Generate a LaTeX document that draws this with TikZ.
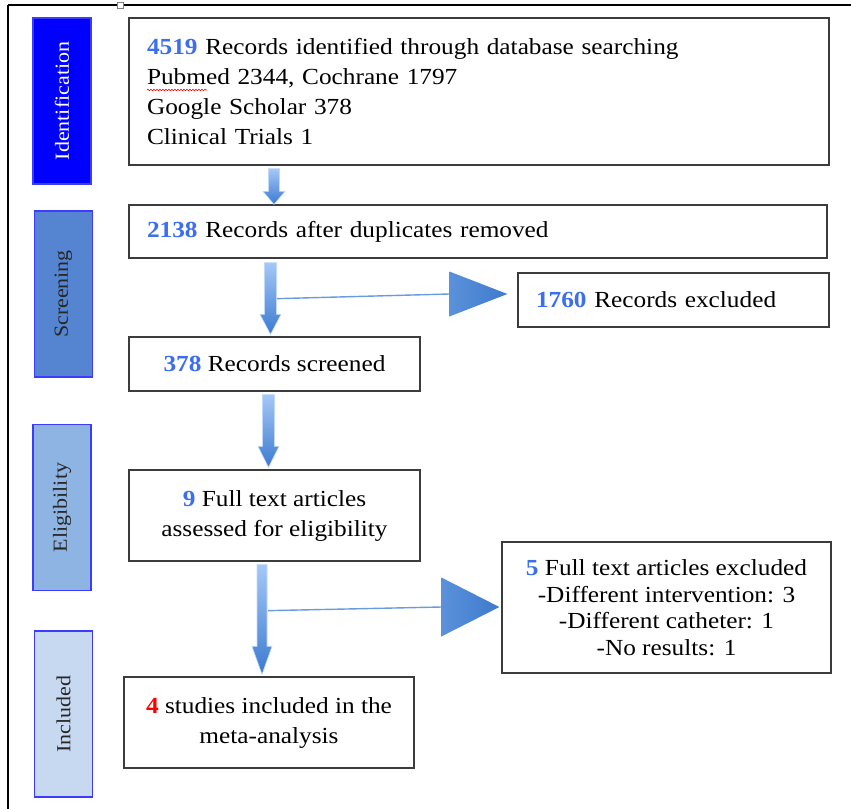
\documentclass[tikz,border=0pt]{standalone}
\usepackage{fontspec}
\setmainfont{Liberation Serif}[FakeStretch=1.1]
\usetikzlibrary{calc,decorations.pathmorphing}
\definecolor{numblue}{RGB}{60,110,240}
\definecolor{boxgray}{RGB}{60,60,60}
\definecolor{idfill}{RGB}{0,0,255}
\definecolor{scfill}{RGB}{85,133,208}
\definecolor{elfill}{RGB}{142,180,227}
\definecolor{infill}{RGB}{198,217,241}
\definecolor{labborder}{RGB}{60,60,255}
\definecolor{arrowlight}{RGB}{165,200,248}
\definecolor{arrowdark}{RGB}{60,122,208}
\definecolor{trileft}{RGB}{90,145,218}
\definecolor{triright}{RGB}{62,122,204}
\definecolor{sidecol}{RGB}{105,155,222}
\newcommand\nb[1]{\textbf{\textcolor{numblue}{#1}}}
\newcommand\blockarrow[5]{%
  \shade[arrowfill] let \p1=(#1), \p2=(#2) in
    (\x1-#3pt,\y1) -- (\x1+#3pt,\y1) -- (\x1+#3pt,\y2+#5pt) -- (\x1+#4pt,\y2+#5pt)
    -- (\x1,\y2) -- (\x1-#4pt,\y2+#5pt) -- (\x1-#3pt,\y2+#5pt) -- cycle;}
\newcommand\sidearrow[4]{%
  \draw[sideline] let \p1=(#1), \p2=(#2) in (\p1) -- (\x2-#3pt,\y2);
  \shade[trifill] let \p2=(#2) in (\p2) -- (\x2-#3pt,\y2+#4pt) -- (\x2-#3pt,\y2-#4pt) -- cycle;}
\begin{document}
\begin{tikzpicture}[x=1pt,y=-1pt,
  box/.style={draw=boxgray, line width=1.3pt, fill=white, inner sep=0pt,
    font=\fontsize{23}{30}\selectfont},
  lab/.style={draw=labborder, line width=1.3pt, rotate=90, inner sep=0pt,
    minimum width=166pt, minimum height=58pt, font=\fontsize{20}{22}\selectfont},
  arrowfill/.style={top color=arrowlight, bottom color=arrowdark, draw=arrowlight!70!white, line width=0.6pt},
  trifill/.style={left color=trileft, right color=triright},
  sideline/.style={draw=sidecol, line width=1.4pt},
  frame/.style={draw=black, line width=1.5pt}]
\useasboundingbox (0,0) rectangle (851,809);
% outer frame
\draw[frame] (8,5) -- (851,5);
\draw[frame] (8,5) -- (8,809);
\draw[draw=gray, line width=0.6pt, fill=white] (117,2) rectangle (123,8);
% phase labels
\node[lab, fill=idfill, text=white] (lid) at (62,101) {Identification};
\node[lab, fill=scfill, text=black!85] (lsc) at (63.5,294) {Screening};
\node[lab, fill=elfill, text=black!85] (lel) at (62,507.5) {Eligibility};
\node[lab, fill=infill, text=black!85] (lin) at (63.5,714) {Included};
% boxes
\node[box, minimum width=700pt, minimum height=147pt, text width=664pt, align=left] (b1) at (479,91.5)
  {\nb{4519} Records identified through database searching\\
   Pubmed 2344, Cochrane 1797\\
   Google Scholar 378\\
   Clinical Trials 1};
\node[box, minimum width=698pt, minimum height=53pt, text width=662pt, align=left] (b2) at (478,231.5)
  {\nb{2138} Records after duplicates removed};
\node[box, minimum width=311pt, minimum height=54pt, text width=275pt, align=left] (bx1) at (673.5,300)
  {\nb{1760} Records excluded};
\node[box, minimum width=291pt, minimum height=54pt, align=center] (b3) at (274.5,364)
  {\nb{378} Records screened};
\node[box, minimum width=291pt, minimum height=91pt, align=center] (b4) at (274.5,515.5)
  {\nb{9} Full text articles\\ assessed for eligibility};
\node[box, minimum width=329pt, minimum height=131pt, align=center,
  font=\fontsize{23}{26.5}\selectfont] (bx2) at (666.5,607.5)
  {\nb{5} Full text articles excluded\\ -Different intervention: 3\\ -Different catheter: 1\\ -No results: 1};
\node[box, minimum width=290pt, minimum height=91pt, align=center] (b5) at (269,722.5)
  {\textbf{\textcolor{red}{4}} studies included in the\\ meta-analysis};
% spell-check underline
\draw[red, line width=0.6pt, decorate, decoration={snake, amplitude=0.8pt, segment length=3pt}]
  (147,90) -- (207,90);
% connector coordinates
\coordinate (a1s) at ($(b1.south)+(-205,3)$);
\coordinate (a1e) at ($(b2.north)+(-204,0)$);
\coordinate (a2s) at ($(b2.south)+(-207.5,4)$);
\coordinate (a2e) at ($(b3.north)+(-4,-2)$);
\coordinate (a3s) at ($(b3.south)+(-6,3)$);
\coordinate (a3e) at ($(b4.north)+(-6,-2)$);
\coordinate (a4s) at ($(b4.south)+(-12.5,3)$);
\coordinate (a4e) at ($(b5.north)+(-7,-2)$);
\coordinate (s1s) at ($(b2.south)+(-201,40)$);
\coordinate (s1e) at ($(bx1.west)+(-10,-6)$);
\coordinate (s2s) at ($(b4.south)+(-6.5,49)$);
\coordinate (s2e) at ($(bx2.west)+(-2,-0.5)$);
% block arrows
\blockarrow{a1s}{a1e}{5.5}{11}{13}
\blockarrow{a2s}{a2e}{6}{10.5}{20}
\blockarrow{a3s}{a3e}{6}{10.5}{21}
\blockarrow{a4s}{a4e}{5}{10}{28}
% side arrows
\sidearrow{s1s}{s1e}{58}{22.5}
\sidearrow{s2s}{s2e}{58}{29.5}
\end{tikzpicture}
\end{document}
